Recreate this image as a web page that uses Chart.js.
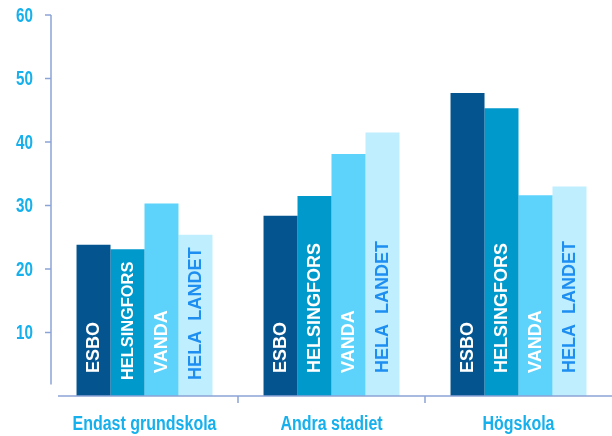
<!DOCTYPE html>
<html>
<head>
<meta charset="utf-8">
<script src="https://cdn.jsdelivr.net/npm/chart.js@4/dist/chart.umd.min.js"></script>
<style>
html,body{margin:0;padding:0;background:#fff;}
#wrap{width:612px;height:436px;position:relative;}
</style>
</head>
<body>
<div id="wrap"><canvas id="c" width="612" height="436"></canvas></div>
<script>
const categories = ["Endast grundskola", "Andra stadiet", "Högskola"];
const seriesNames = ["ESBO", "HELSINGFORS", "VANDA", "HELA  LANDET"];
const esbo = [23.8, 28.4, 47.7];
const helsingfors = [23.1, 31.5, 45.3];
const vanda = [30.3, 38.1, 31.6];
const helaLandet = [25.4, 41.5, 33.0];
const yTicks = [10, 20, 30, 40, 50, 60];

const barColors = ["#03548F", "#0099CC", "#5DD3FC", "#BFEEFE"];
const labelColors = ["#FFFFFF", "#FFFFFF", "#FFFFFF", "#1E8FF0"];
const axisColor = "#8CA3D6";
const tickColor = "#16B0EC";
const baseFont = "'Liberation Sans', Arial, sans-serif";

const seriesValues = [esbo, helsingfors, vanda, helaLandet];

function condensedText(ctx, text, x, y, align, scaleX) {
  ctx.save();
  ctx.translate(x, y);
  ctx.scale(scaleX, 1);
  ctx.textAlign = align;
  ctx.fillText(text, 0, 0);
  ctx.restore();
}

const axisPlugin = {
  id: 'axes',
  afterDraw(chart) {
    const ctx = chart.ctx;
    const y = chart.scales.y, x = chart.scales.x;
    const area = chart.chartArea;
    ctx.save();
    ctx.strokeStyle = axisColor;
    ctx.lineWidth = 1.5;
    // y axis line
    ctx.beginPath();
    ctx.moveTo(area.left, y.getPixelForValue(60));
    ctx.lineTo(area.left, y.getPixelForValue(1.8));
    ctx.stroke();
    // y ticks + labels
    ctx.fillStyle = tickColor;
    ctx.font = "bold 20px " + baseFont;
    ctx.textBaseline = 'middle';
    y.ticks.forEach(t => {
      const py = y.getPixelForValue(t.value);
      ctx.beginPath();
      ctx.moveTo(area.left - 6, py);
      ctx.lineTo(area.left, py);
      ctx.stroke();
      condensedText(ctx, String(t.value), area.left - 18, py + 1, 'right', 0.76);
    });
    // x axis line
    const by = y.getPixelForValue(0);
    ctx.beginPath();
    ctx.moveTo(area.left + 7, by);
    ctx.lineTo(area.right, by);
    ctx.stroke();
    // x ticks at category boundaries + labels
    for (let i = 1; i < categories.length; i++) {
      const px = (x.getPixelForValue(i - 1) + x.getPixelForValue(i)) / 2;
      ctx.beginPath();
      ctx.moveTo(px, by);
      ctx.lineTo(px, by + 7);
      ctx.stroke();
    }
    ctx.font = "bold 20px " + baseFont;
    ctx.textBaseline = 'middle';
    categories.forEach((c, i) => {
      condensedText(ctx, c, x.getPixelForValue(i), by + 28, 'center', 0.8);
    });
    // vertical labels inside bars
    chart.data.datasets.forEach((ds, di) => {
      const meta = chart.getDatasetMeta(di);
      meta.data.forEach((bar) => {
        let start = 23;
        let size = 18;
        ctx.font = "bold " + size + "px " + baseFont;
        const w = ctx.measureText(ds.label).width;
        let avail = (by - bar.y) - start - 13;
        if (w > avail) {
          start = 16;
          avail = (by - bar.y) - start - 12;
          size = Math.floor(size * avail / w * 10) / 10;
        }
        ctx.save();
        ctx.translate(bar.x, by - start);
        ctx.rotate(-Math.PI / 2);
        ctx.fillStyle = labelColors[di];
        ctx.font = "bold " + size + "px " + baseFont;
        ctx.textAlign = 'left';
        ctx.textBaseline = 'middle';
        ctx.fillText(ds.label, 0, 1);
        ctx.restore();
      });
    });
    ctx.restore();
  }
};

new Chart(document.getElementById('c'), {
  type: 'bar',
  data: {
    labels: categories,
    datasets: seriesNames.map((n, i) => ({
      label: n,
      data: seriesValues[i],
      backgroundColor: barColors[i],
      borderWidth: 0,
      categoryPercentage: 0.727,
      barPercentage: 1.0
    }))
  },
  options: {
    responsive: false,
    animation: false,
    devicePixelRatio: 1,
    layout: { padding: { top: 15, right: 0, left: 0, bottom: 0 } },
    plugins: { legend: { display: false }, tooltip: { enabled: false } },
    scales: {
      x: {
        grid: { display: false },
        border: { display: false },
        ticks: { display: false },
        afterFit(s) { s.height = 40; }
      },
      y: {
        min: 0, max: 60,
        grid: { display: false },
        border: { display: false },
        afterBuildTicks(s) { s.ticks = yTicks.map(v => ({ value: v })); },
        ticks: { display: false },
        afterFit(s) { s.width = 51; }
      }
    }
  },
  plugins: [axisPlugin]
});
</script>
</body>
</html>
